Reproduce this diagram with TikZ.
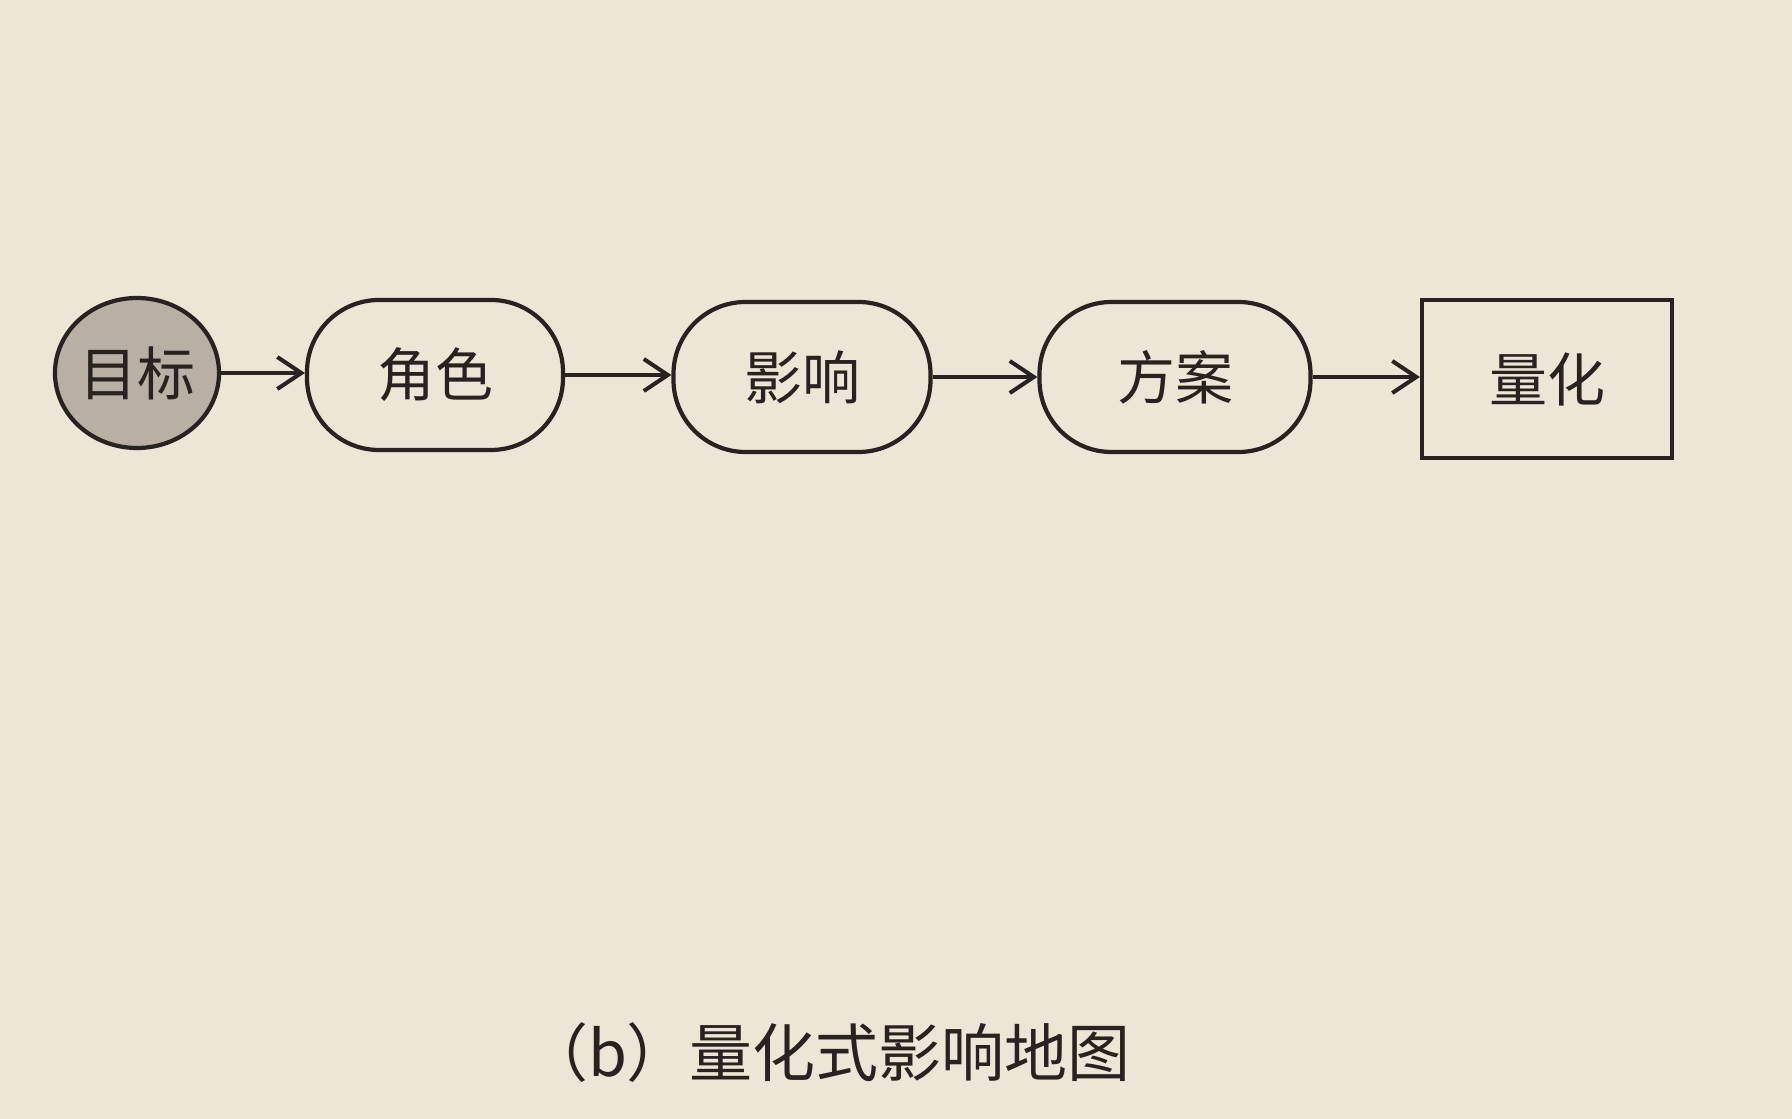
\documentclass[tikz,border=0pt]{standalone}
\usepackage{fontspec}
\newfontfamily\cjk{Noto Sans CJK SC}
\usetikzlibrary{arrows.meta,shapes.geometric}
\definecolor{paper}{RGB}{236,230,214}
\definecolor{ink}{RGB}{40,35,32}
\definecolor{goalfill}{RGB}{184,176,164}
\tikzset{
  base/.style={draw=ink, line width=4.2pt, text=ink, font=\cjk\fontsize{58}{64}\selectfont, inner sep=0pt},
  goalnode/.style={base, ellipse, fill=goalfill, minimum width=164pt, minimum height=150pt},
  stadium/.style={base, rectangle, rounded corners=72pt, minimum height=150pt},
  boxnode/.style={base, rectangle, minimum width=250pt, minimum height=158pt},
  link/.style={draw=ink, line width=4pt, -{Straight Barb[length=24pt,width=32pt]}},
  caption/.style={text=ink, font=\cjk\fontsize{63}{70}\selectfont, inner sep=0pt}
}
\begin{document}
\begin{tikzpicture}[x=1pt,y=1pt]
  \fill[paper] (0,0) rectangle (1792,1119);
  \useasboundingbox (0,0) rectangle (1792,1119);
  \node[goalnode] (goal) at (137,746) {目标};
  \node[stadium, minimum width=256pt] (role) at (435,744) {角色};
  \node[stadium, minimum width=257pt] (impact) at (802,742) {影响};
  \node[stadium, minimum width=271pt] (plan) at (1175,742) {方案};
  \node[boxnode] (quant) at (1547,740) {量化};
  \draw[link] (goal.east) -- (goal.east -| role.west);
  \draw[link] (role.east) -- (role.east -| impact.west);
  \draw[link] (impact.east) -- (impact.east -| plan.west);
  \draw[link] (plan.east) -- (plan.east -| quant.west);
  \node[caption] (cap) at (828,66) {（b）量化式影响地图};
\end{tikzpicture}
\end{document}
